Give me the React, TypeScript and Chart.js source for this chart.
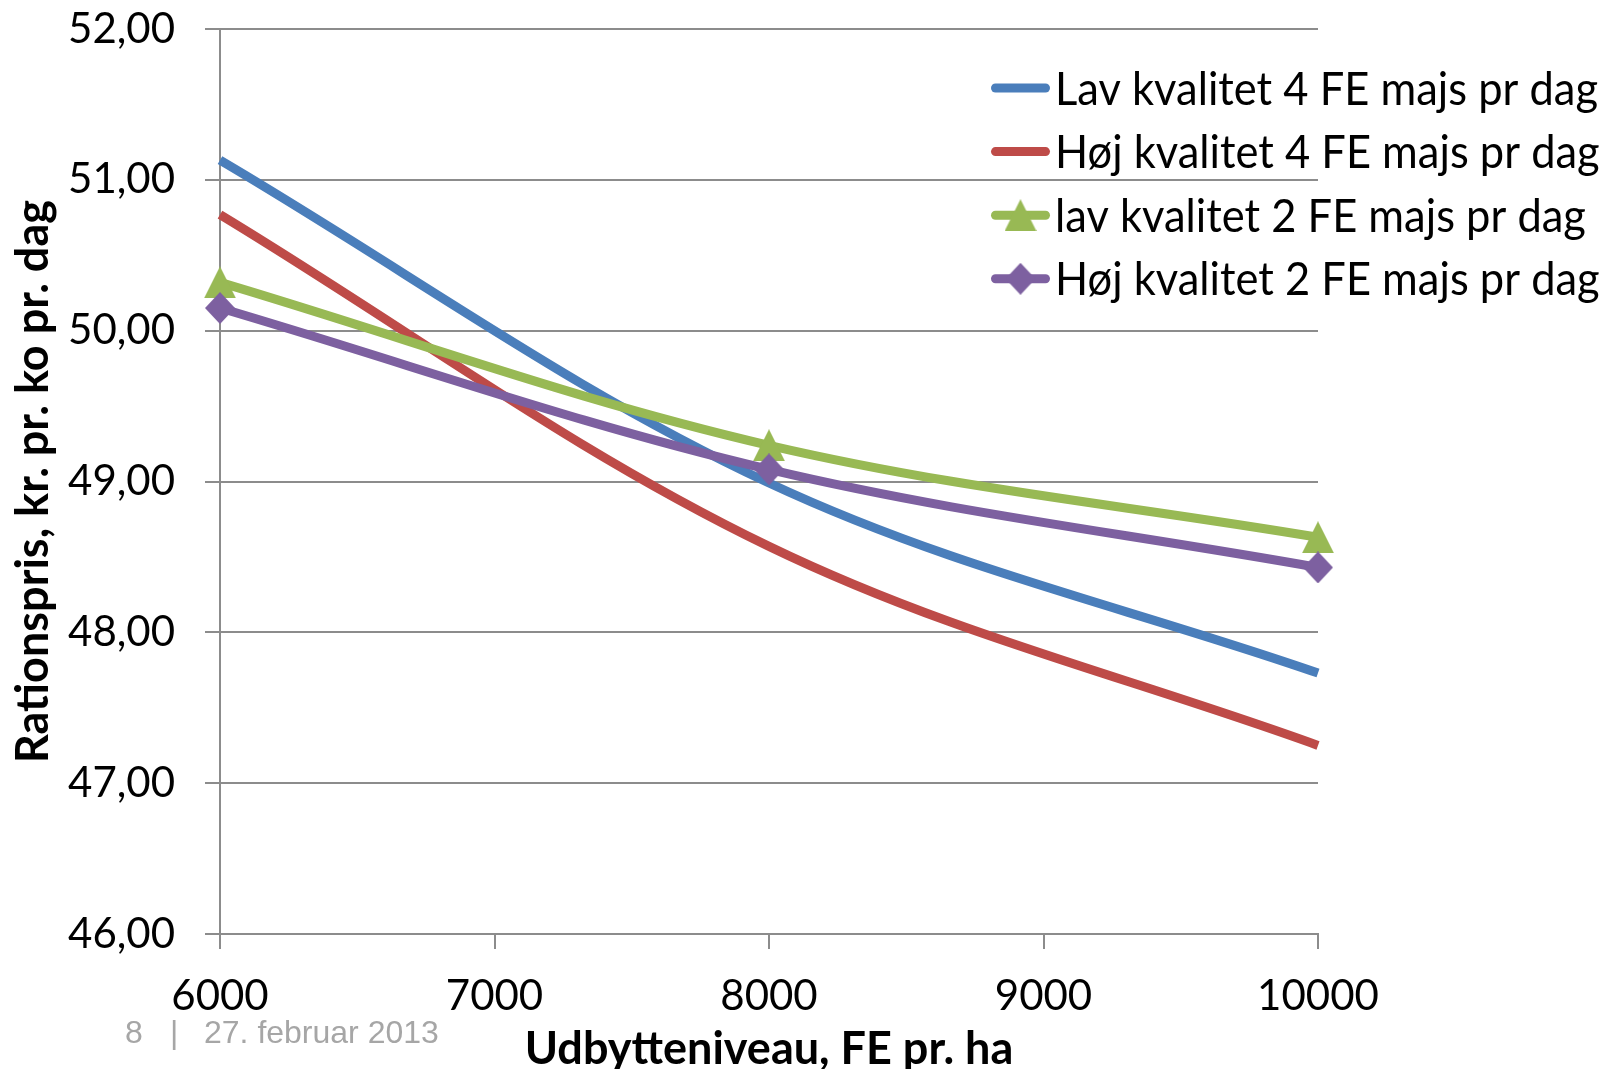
import React, { useEffect, useRef } from 'react';
import { Chart, registerables } from 'chart.js';

Chart.register(...registerables);

// ---- data ----
const xValues = [6000, 8000, 10000];
const xTicks = [6000, 7000, 8000, 9000, 10000];
const yTicks = [46, 47, 48, 49, 50, 51, 52];

const seriesLabels = [
  'Lav kvalitet 4 FE majs pr dag',
  'Høj kvalitet 4 FE majs pr dag',
  'lav kvalitet 2 FE majs pr dag',
  'Høj kvalitet 2 FE majs pr dag',
];
const lavKvalitet4 = [51.13, 48.99, 47.73];
const hojKvalitet4 = [50.77, 48.57, 47.25];
const lavKvalitet2 = [50.32, 49.24, 48.63];
const hojKvalitet2 = [50.15, 49.08, 48.43];

const xTitle = 'Udbytteniveau, FE pr. ha';
const yTitle = 'Rationspris, kr. pr. ko pr. dag';
const footerPage = '8';
const footerDate = '27. februar 2013';

// ---- styles ----
const COLORS = ['#4A7EBB', '#BE4B48', '#98B954', '#7D60A0'];
const GRID = '#8C8C8C';
const FONT = 'Lato';

function makeMarker(kind: 'triangle' | 'diamond', color: string): HTMLCanvasElement {
  const c = document.createElement('canvas');
  const w = kind === 'triangle' ? 32 : 30;
  const h = 32;
  c.width = w;
  c.height = h;
  const g = c.getContext('2d')!;
  g.fillStyle = color;
  g.beginPath();
  if (kind === 'triangle') {
    g.moveTo(w / 2, 0);
    g.lineTo(w, h);
    g.lineTo(0, h);
  } else {
    g.moveTo(w / 2, 0);
    g.lineTo(w, h / 2);
    g.lineTo(w / 2, h);
    g.lineTo(0, h / 2);
  }
  g.closePath();
  g.fill();
  return c;
}

const legendPlugin = {
  id: 'sideLegend',
  afterDraw(chart: any) {
    const ctx = chart.ctx as CanvasRenderingContext2D;
    ctx.save();
    ctx.font = `46px ${FONT}`;
    const firstWidth = ctx.measureText(chart.data.datasets[0].label).width;
    const squeeze = Math.min(1, 543 / firstWidth);
    chart.data.datasets.forEach((ds: any, i: number) => {
      const y = 88 + i * 63.6;
      const x0 = 995.5;
      const x1 = 1045.5;
      ctx.strokeStyle = ds.borderColor;
      ctx.lineWidth = 9;
      ctx.lineCap = 'round';
      ctx.beginPath();
      ctx.moveTo(x0, y);
      ctx.lineTo(x1, y);
      ctx.stroke();
      if (ds.pointRadius > 0 && ds.pointStyle instanceof HTMLCanvasElement) {
        const img = ds.pointStyle as HTMLCanvasElement;
        ctx.drawImage(img, (x0 + x1) / 2 - img.width / 2, y - img.height / 2);
      }
      ctx.fillStyle = '#000';
      ctx.font = `46px ${FONT}`;
      ctx.textBaseline = 'alphabetic';
      ctx.textAlign = 'left';
      const w = ctx.measureText(ds.label).width;
      ctx.fillText(ds.label, 1055, y + 16.5, w * squeeze);
    });
    // footer
    ctx.fillStyle = '#A6A6A6';
    ctx.font = '32px "Liberation Sans"';
    ctx.textBaseline = 'alphabetic';
    ctx.fillText(footerPage, 125, 1043);
    ctx.fillText('|', 170, 1043);
    ctx.fillText(footerDate, 204, 1043);
    ctx.restore();
  },
};

export default function App() {
  const ref = useRef<HTMLCanvasElement>(null);

  useEffect(() => {
    if (!ref.current) return;
    const tri = makeMarker('triangle', COLORS[2]);
    const dia = makeMarker('diamond', COLORS[3]);
    const seriesValues = [lavKvalitet4, hojKvalitet4, lavKvalitet2, hojKvalitet2];
    const styles: any[] = [false, false, tri, dia];

    const datasets = seriesValues.map((vals, i) => ({
      label: seriesLabels[i],
      data: xValues.map((x, j) => ({ x, y: vals[j] })),
      borderColor: COLORS[i],
      backgroundColor: COLORS[i],
      borderWidth: 9,
      tension: 0.35,
      pointStyle: styles[i],
      pointRadius: styles[i] ? 16 : 0,
      pointHoverRadius: styles[i] ? 16 : 0,
      pointBackgroundColor: COLORS[i],
      pointBorderColor: COLORS[i],
      pointBorderWidth: 0,
      order: 4 - i,
      clip: false as any,
    }));

    const chart = new Chart(ref.current, {
      type: 'line',
      data: { datasets },
      options: {
        animation: false,
        responsive: false,
        events: [],
        layout: { padding: { top: 29, left: 0, right: 288, bottom: 0 } },
        plugins: { legend: { display: false }, tooltip: { enabled: false } },
        scales: {
          x: {
            type: 'linear',
            min: 6000,
            max: 10000,
            afterBuildTicks: (scale: any) => {
              scale.ticks = xTicks.map((v) => ({ value: v }));
            },
            afterFit: (scale: any) => {
              scale.height = 135;
              scale.paddingLeft = 0;
              scale.paddingRight = 0;
            },
            ticks: {
              autoSkip: false,
              maxRotation: 0,
              padding: 22,
              color: '#000',
              font: { family: FONT, size: 42 },
              callback: (v: any) => String(v),
            },
            grid: {
              drawOnChartArea: false,
              drawTicks: true,
              tickLength: 15,
              color: GRID,
              lineWidth: 2,
            },
            border: { display: true, color: GRID, width: 2 },
            title: {
              display: true,
              text: xTitle,
              color: '#000',
              font: { family: FONT, size: 45, weight: 'bold', lineHeight: 1 },
              padding: { top: 0, bottom: -3 },
            },
          },
          y: {
            type: 'linear',
            min: 46,
            max: 52,
            afterBuildTicks: (scale: any) => {
              scale.ticks = yTicks.map((v) => ({ value: v }));
            },
            afterFit: (scale: any) => {
              scale.width = 220;
              scale.paddingTop = 0;
              scale.paddingBottom = 0;
            },
            ticks: {
              padding: 30,
              color: '#000',
              font: { family: FONT, size: 42 },
              callback: (v: any) => Number(v).toFixed(2).replace('.', ','),
            },
            grid: {
              drawOnChartArea: true,
              drawTicks: true,
              tickLength: 15,
              color: GRID,
              lineWidth: 2,
            },
            border: { display: true, color: GRID, width: 2 },
            title: {
              display: true,
              text: yTitle,
              color: '#000',
              font: { family: FONT, size: 45, weight: 'bold', lineHeight: 1 },
              padding: { top: 10.5, bottom: 0 },
            },
          },
        },
      },
      plugins: [legendPlugin],
    });
    return () => chart.destroy();
  }, []);

  return (
    <div style={{ position: 'absolute', left: 0, top: 0, width: 1606, height: 1069, background: '#fff' }}>
      <canvas ref={ref} width={1606} height={1069} style={{ display: 'block' }} />
    </div>
  );
}
